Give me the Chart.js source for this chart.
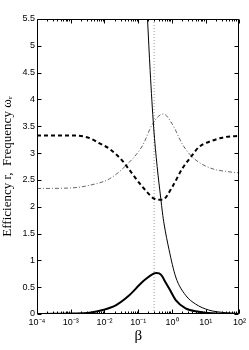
<!DOCTYPE html>
<html>
<head>
<meta charset="utf-8">
<script src="https://cdn.jsdelivr.net/npm/chart.js@4"></script>
<style>
html,body{margin:0;padding:0;background:#fff;}
#c{display:block;}
</style>
</head>
<body>
<canvas id="c" width="249" height="350"></canvas>
<script>
// ---- data (beta values, series values) ----
const xTickExponents = [-4, -3, -2, -1, 0, 1, 2];
const xTickLabels = ['10\u207B\u2074','10\u207B\u00B3','10\u207B\u00B2','10\u207B\u00B9','10\u2070','10\u00B9','10\u00B2'];
const yTickValues = [0, 0.5, 1, 1.5, 2, 2.5, 3, 3.5, 4, 4.5, 5, 5.5];
const yTickLabels = ['0','0.5','1','1.5','2','2.5','3','3.5','4','4.5','5','5.5'];

// efficiency r (thick solid)
const effBeta = [0.0001, 0.000316, 0.001, 0.00362, 0.00891, 0.0221, 0.0543, 0.134, 0.295, 0.347, 0.415, 0.519, 0.582, 0.817, 1.29, 2.53, 6.22, 15.3, 39.8, 100];
const effVal  = [0.001, 0.003, 0.009, 0.025, 0.074, 0.167, 0.35, 0.60, 0.757, 0.765, 0.757, 0.70, 0.64, 0.48, 0.26, 0.106, 0.043, 0.013, 0.004, 0.001];

// thin solid (decaying)
const thinBeta = [0.158, 0.188, 0.225, 0.286, 0.363, 0.466, 0.519, 0.582, 0.817, 1.29, 2.53, 4.98, 12.2, 38.0, 100];
const thinVal  = [6.4, 5.5, 4.54, 3.48, 2.75, 2.15, 1.9, 1.68, 1.2, 0.69, 0.35, 0.186, 0.074, 0.025, 0.01];

// frequency (thick dashed)
const dashBeta = [0.0001, 0.001, 0.00362, 0.00713, 0.0140, 0.0347, 0.0435, 0.134, 0.295, 0.415, 0.519, 1.02, 2.01, 3.55, 6.22, 15.3, 38.0, 100];
const dashVal  = [3.33, 3.33, 3.28, 3.18, 3.08, 2.85, 2.77, 2.37, 2.15, 2.13, 2.13, 2.37, 2.71, 2.92, 3.11, 3.23, 3.30, 3.32];

// thin dash-dot
const ddBeta = [0.0001, 0.001, 0.00362, 0.0140, 0.0435, 0.134, 0.264, 0.550, 1.02, 2.01, 3.55, 6.22, 15.3, 38.0, 100];
const ddVal  = [2.34, 2.35, 2.40, 2.52, 2.77, 3.14, 3.54, 3.73, 3.54, 3.17, 2.96, 2.83, 2.71, 2.66, 2.63];

// vertical dotted marker
const markerBeta = 0.295;
const markerY = [0, 5.5];

const pts = (xs, ys) => xs.map((x, i) => ({x: x, y: ys[i]}));

const majorVals = xTickExponents.map(e => Math.pow(10, e));

const boxPlugin = {
  id: 'box',
  afterDraw(chart) {
    const {ctx, chartArea: a, scales: {x, y}} = chart;
    ctx.save();
    ctx.strokeStyle = '#000';
    ctx.lineWidth = 1;
    const L = Math.round(a.left) + 0.5, R = Math.round(a.right) - 0.5;
    const T = Math.round(a.top) + 0.5, B = Math.round(a.bottom) - 0.5;
    ctx.beginPath();
    ctx.rect(L, T, R - L, B - T);
    x.ticks.forEach(t => {
      const px = Math.round(x.getPixelForValue(t.value)) + 0.5;
      const len = t.major ? 4 : 2;
      ctx.moveTo(px, B); ctx.lineTo(px, B - len);
      ctx.moveTo(px, T); ctx.lineTo(px, T + len);
    });
    y.ticks.forEach(t => {
      const py = Math.round(y.getPixelForValue(t.value)) + 0.5;
      ctx.moveTo(L, py); ctx.lineTo(L + 4, py);
      ctx.moveTo(R, py); ctx.lineTo(R - 4, py);
    });
    ctx.stroke();
    ctx.restore();
  }
};

const tickFont = {family: '"Liberation Sans", Arial, sans-serif', size: 9};

new Chart(document.getElementById('c').getContext('2d'), {
  type: 'line',
  data: {
    datasets: [
      {data: pts(effBeta, effVal), borderColor: '#000', borderWidth: 2, cubicInterpolationMode: 'monotone', clip: 0},
      {data: pts(thinBeta, thinVal), borderColor: '#000', borderWidth: 1, cubicInterpolationMode: 'monotone', clip: 0},
      {data: pts(dashBeta, dashVal), borderColor: '#000', borderWidth: 2, borderDash: [4, 3], cubicInterpolationMode: 'monotone', clip: 0},
      {data: pts(ddBeta, ddVal), borderColor: '#666', borderWidth: 1, borderDash: [4, 2, 1, 2], cubicInterpolationMode: 'monotone', clip: 0},
      {data: pts([markerBeta, markerBeta], markerY), borderColor: '#999', borderWidth: 1, borderDash: [1, 2], clip: 0}
    ]
  },
  options: {
    responsive: false,
    animation: false,
    devicePixelRatio: 1,
    layout: {padding: {top: 19, right: 8, left: 0, bottom: 0}},
    plugins: {legend: {display: false}, tooltip: {enabled: false}},
    elements: {point: {radius: 0}, line: {fill: false}},
    scales: {
      x: {
        type: 'logarithmic',
        min: 1e-4, max: 1e2,
        grid: {display: false, drawTicks: false},
        border: {display: false},
        afterBuildTicks(scale) {
          const t = [];
          xTickExponents.forEach((e, i) => {
            const base = Math.pow(10, e);
            t.push({value: base, major: true});
            if (i < xTickExponents.length - 1) {
              for (let k = 2; k <= 9; k++) t.push({value: k * base, major: false});
            }
          });
          scale.ticks = t;
        },
        ticks: {
          autoSkip: false, maxRotation: 0, minRotation: 0, padding: 3,
          color: '#000', font: tickFont,
          callback(v) {
            const i = majorVals.findIndex(m => Math.abs(m - v) / m < 1e-6);
            return i >= 0 ? xTickLabels[i] : '';
          }
        },
        title: {display: true, text: '\u03B2', color: '#000',
          font: {family: '"Liberation Serif", "Times New Roman", serif', size: 15},
          padding: {top: 0, bottom: 5}},
        afterFit(scale) { scale.height = 36; }
      },
      y: {
        type: 'linear',
        min: 0, max: 5.5,
        grid: {display: false, drawTicks: false},
        border: {display: false},
        afterBuildTicks(scale) { scale.ticks = yTickValues.map(v => ({value: v})); },
        ticks: {
          autoSkip: false, padding: 2, color: '#000', font: tickFont,
          callback(v) {
            const i = yTickValues.indexOf(v);
            return i >= 0 ? yTickLabels[i] : '';
          }
        },
        title: {display: true, text: 'Efficiency r,  Frequency \u03C9\u1D63', color: '#000',
          font: {family: '"Liberation Serif", "Times New Roman", serif', size: 13},
          padding: {top: 0, bottom: 0}},
        afterFit(scale) { scale.width = 37; }
      }
    }
  },
  plugins: [boxPlugin]
});
</script>
</body>
</html>
